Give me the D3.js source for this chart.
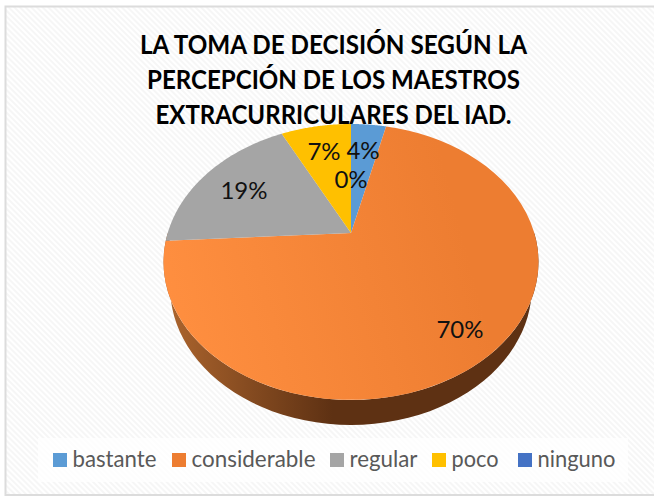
<!DOCTYPE html>
<html><head><meta charset="utf-8">
<script src="https://cdn.jsdelivr.net/npm/d3@7"></script>
<style>html,body{margin:0;padding:0;background:#fff}svg{display:block}text{font-family:Lato,"Open Sans",sans-serif}</style>
</head><body><svg id="c" width="654" height="498"></svg>
<script>
const categories = ["bastante","considerable","regular","poco","ninguno"];
const counts = [1,19,5,2,0];
const colors = ["#5b9bd5","#ed7d31","#a5a5a5","#ffc000","#4472c4"];
const titleLines = ["LA TOMA DE DECISIÓN SEGÚN LA","PERCEPCIÓN DE LOS MAESTROS","EXTRACURRICULARES DEL IAD."];

const W=654,H=498;
const svg=d3.select("#c");
const defs=svg.append("defs");
const pat=defs.append("pattern").attr("id","bg").attr("width",4).attr("height",4).attr("patternUnits","userSpaceOnUse").attr("patternTransform","rotate(-45)");
pat.append("rect").attr("width",4).attr("height",4).attr("fill","#fff");
pat.append("rect").attr("width",2).attr("height",4).attr("fill","#f6f6f6");
const gTop=defs.append("linearGradient").attr("id","orangeTop").attr("gradientUnits","userSpaceOnUse")
 .attr("x1",170).attr("y1",340).attr("x2",470).attr("y2",260);
gTop.append("stop").attr("offset",0).attr("stop-color","#ff8f40");
gTop.append("stop").attr("offset",1).attr("stop-color","#ed7d31");
const gWall=defs.append("linearGradient").attr("id","wall").attr("gradientUnits","userSpaceOnUse")
 .attr("x1",175).attr("y1",0).attr("x2",525).attr("y2",0);
gWall.append("stop").attr("offset",0).attr("stop-color","#a8622c");
gWall.append("stop").attr("offset",.45).attr("stop-color","#5e3113");
gWall.append("stop").attr("offset",1).attr("stop-color","#5e3113");

svg.append("rect").attr("width",W).attr("height",H).attr("fill","#fff");
svg.append("rect").attr("x",5.5).attr("y",6.5).attr("width",W).attr("height",H-9.5).attr("fill","url(#bg)").attr("stroke","#dcdcdc").attr("stroke-width",2);

// perspective projection of the pie disk
const apex={x:351,y:233}, p=-0.21, sy=131.9, sx=183.3;
const proj=(a,r=1)=>{const u=r*Math.sin(a),v=-r*Math.cos(a),w=1+p*v;return [apex.x+sx*u/w,apex.y+sy*v/w];};
const depth=25, wallShrink=0.965;

const pie=d3.pie().sort(null).value(d=>d);
const arcs=pie(counts);
const total=d3.sum(counts);
const line=d3.line();
const sample=(a0,a1)=>d3.range(0,61).map(i=>a0+(a1-a0)*i/60);

// side wall
const wallPts=sample(Math.PI*0.5,Math.PI*1.5);
const wallTop=wallPts.map(a=>proj(a));
const wallBottom=wallPts.map(a=>{const q=proj(a);return [350.5+(q[0]-350.5)*wallShrink,q[1]+depth];});
svg.append("path").attr("d",line(wallTop.concat(wallBottom.reverse()))+"Z").attr("fill","url(#wall)");

// top faces
svg.append("g").selectAll("path").data(arcs).join("path")
 .attr("d",d=>line([[apex.x,apex.y]].concat(sample(d.startAngle,d.endAngle).map(a=>proj(a))))+"Z")
 .attr("fill",(d,i)=>i===1?"url(#orangeTop)":colors[i]);

// labels
const labelAt=[[363,149],[460,328],[244,189],[324,150],[351,178]];
svg.append("g").selectAll("text").data(arcs).join("text")
 .attr("x",(d,i)=>labelAt[i][0]).attr("y",(d,i)=>labelAt[i][1])
 .attr("text-anchor","middle").attr("dominant-baseline","central")
 .attr("font-size",24).attr("fill","#111")
 .text(d=>d3.format(".0%")(d.data/total));

// title
const titleWidth=[387,373,356];
svg.append("g").selectAll("text").data(titleLines).join("text")
 .attr("x",333.5).attr("y",(d,i)=>54+i*35)
 .attr("text-anchor","middle").attr("font-size",26).attr("font-weight",700).attr("fill","#000")
 .attr("textLength",(d,i)=>titleWidth[i]).attr("lengthAdjust","spacingAndGlyphs").text(d=>d);

// legend
svg.append("rect").attr("x",38).attr("y",438).attr("width",590).attr("height",44).attr("fill","#fff").attr("opacity",.75);
const legendX=[53,172,330,432,518], legendW=[84,124,68,47,78];
const lg=svg.append("g").selectAll("g").data(categories).join("g").attr("transform",(d,i)=>`translate(${legendX[i]},453)`);
lg.append("rect").attr("width",14).attr("height",14).attr("fill",(d,i)=>colors[i]);
lg.append("text").attr("x",19.5).attr("y",14).attr("font-size",23).attr("fill","#595959")
 .attr("textLength",(d,i)=>legendW[i]).attr("lengthAdjust","spacingAndGlyphs").text(d=>d);
</script></body></html>
